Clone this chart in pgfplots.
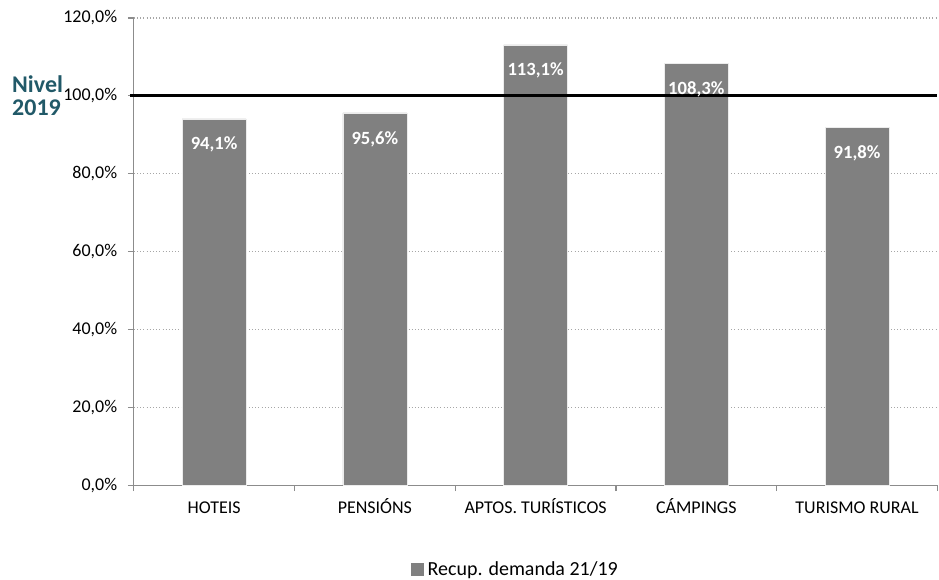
\documentclass[border=0pt]{standalone}
\usepackage{pgfplots}
\pgfplotsset{compat=1.18}
\usepackage{fontspec}
\setmainfont{Carlito}

\definecolor{barGray}{HTML}{808080}
\definecolor{gridGray}{HTML}{A6A6A6}
\definecolor{axisGray}{HTML}{8C8C8C}
\definecolor{nivelTeal}{HTML}{215968}

\begin{document}
\begin{tikzpicture}
  \begin{axis}[
      name=main,
      at={(0,0)}, anchor=south west,
      scale only axis,
      width=603.75pt, height=351pt,
      xmin=-0.5, xmax=4.5,
      ymin=0, ymax=120,
      axis x line*=bottom,
      axis y line*=left,
      axis line style={axisGray, line width=0.9pt},
      xtick={0,1,2,3,4},
      xticklabels={HOTEIS, PENSIÓNS, APTOS. TURÍSTICOS, CÁMPINGS, TURISMO RURAL},
      major x tick style={draw=none},
      minor xtick={-0.5,0.5,1.5,2.5,3.5,4.5},
      minor x tick style={axisGray, line width=0.9pt},
      minor tick length=4.5pt,
      ytick={0,20,40,60,80,100,120},
      y tick style={axisGray, line width=0.9pt},
      major tick length=4.5pt,
      tick align=outside,
      ymajorgrids,
      major y grid style={gridGray, dotted, line width=0.8pt},
      yticklabel={\pgfmathprintnumber[fixed,fixed zerofill,precision=1,use comma,assume math mode=true]{\tick}\%},
      yticklabel style={font=\fontsize{13.5}{15}\selectfont, black, xshift=-4.5pt},
      xticklabel style={font=\fontsize{13.5}{16}\selectfont, black,
        yshift=-6pt, text height=1.5ex, text depth=0.3ex},
      legend style={at={(axis description cs:0.475,-0.18)}, anchor=center,
        draw=none, fill=none, font=\fontsize{15}{17}\selectfont,
        legend cell align=left, inner sep=0pt,
        /tikz/every odd column/.append style={column sep=1.5pt}},
      legend image code/.code={\fill[barGray] (0pt,-4.2pt) rectangle (9pt,4.8pt);},
      clip=false,
    ]
    \addplot[ybar, bar width=48pt, fill=barGray, draw=white!85!gray, line width=0.4pt,
      nodes near coords={\pgfmathprintnumber[fixed,fixed zerofill,precision=1,use comma,assume math mode=true]{\pgfplotspointmeta}\%},
      nodes near coords style={anchor=north, yshift=-13.5pt, inner sep=0pt,
        white, font=\fontsize{14}{16}\selectfont\bfseries}]
      coordinates {
      (0,94.1) (1,95.6) (2,113.1) (3,108.3) (4,91.8)
    };
    \addlegendentry{Recup. demanda 21/19}

    % nivel 2019 reference line
    \addplot[sharp plot, black, line width=2.4pt, forget plot]
      coordinates {(-0.525,100) (4.5,100)};

    \node[anchor=west, align=left, text=nivelTeal,
          font=\fontsize{18}{17}\selectfont\bfseries, inner sep=0pt]
      at (axis description cs:-0.1516,0.8333) {Nivel\\2019};
  \end{axis}
  \path[use as bounding box] (-100.5pt,-69.75pt) rectangle (603.75pt,364.5pt);
\end{tikzpicture}
\end{document}
